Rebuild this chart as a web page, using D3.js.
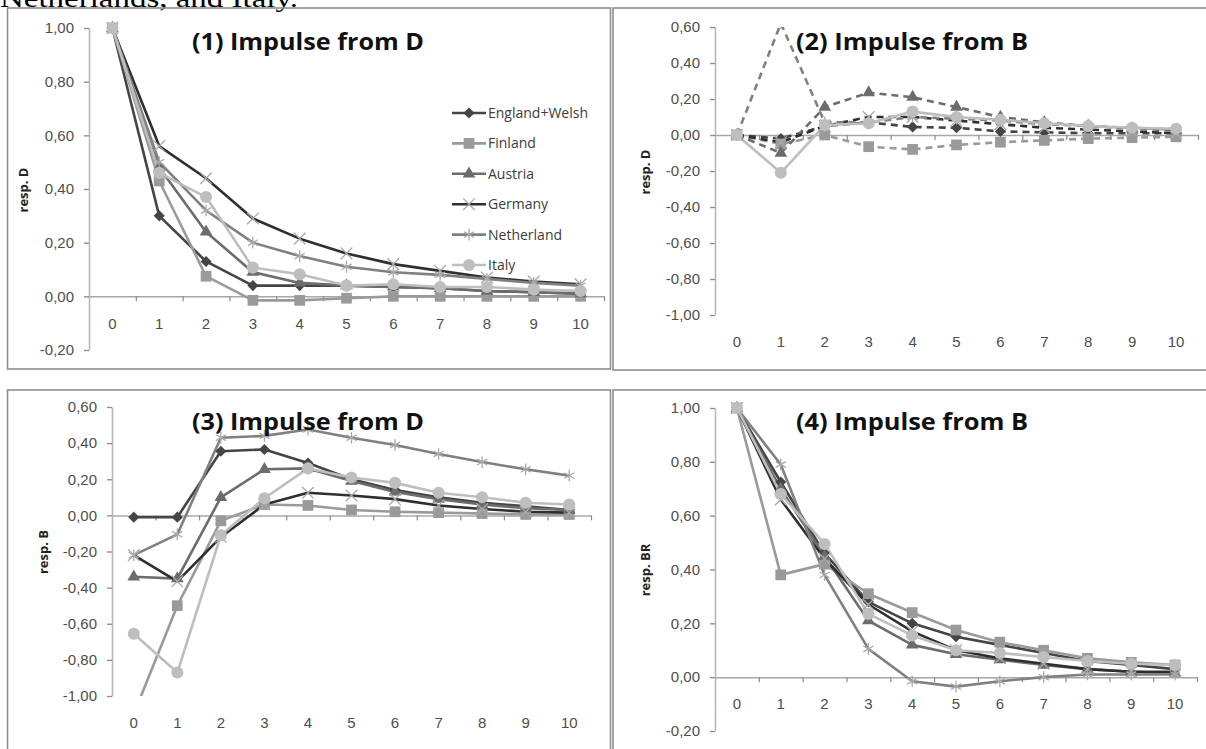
<!DOCTYPE html>
<html>
<head>
<meta charset="utf-8">
<script src="https://cdn.jsdelivr.net/npm/d3@7"></script>
<style>
body { margin: 0; background: #fff; }
svg { display: block; font-family: "Open Sans", sans-serif; }
</style>
</head>
<body>
<script>
// periods after the impulse
var steps = [0, 1, 2, 3, 4, 5, 6, 7, 8, 9, 10];
var countries = ["England+Welsh", "Finland", "Austria", "Germany", "Netherland", "Italy"];
var titles = ["(1) Impulse from D", "(2) Impulse from B", "(3) Impulse from D", "(4) Impulse from B"];
var yLabels = ["resp. D", "resp. D", "resp. B", "resp. BR"];
var ticksSmall = [-0.2, 0, 0.2, 0.4, 0.6, 0.8, 1.0];
var ticksWide = [-1.0, -0.8, -0.6, -0.4, -0.2, 0, 0.2, 0.4, 0.6];

// rows follow the order of countries
var resp1 = [
  [1.00, 0.30, 0.13, 0.04, 0.04, 0.04, 0.035, 0.03, 0.02, 0.015, 0.01],
  [1.00, 0.43, 0.075, -0.015, -0.015, -0.007, 0.0, 0.0, 0.0, 0.0, 0.0],
  [1.00, 0.48, 0.24, 0.09, 0.05, 0.04, 0.035, 0.03, 0.02, 0.015, 0.01],
  [1.00, 0.56, 0.44, 0.29, 0.215, 0.16, 0.12, 0.095, 0.07, 0.055, 0.045],
  [1.00, 0.50, 0.32, 0.20, 0.15, 0.11, 0.09, 0.08, 0.065, 0.05, 0.04],
  [1.00, 0.46, 0.37, 0.107, 0.082, 0.04, 0.045, 0.035, 0.035, 0.025, 0.02]
];
var resp2 = [
  [0, -0.02, 0.05, 0.07, 0.045, 0.04, 0.02, 0.015, 0.01, 0.01, 0.01],
  [0, -0.05, 0.0, -0.065, -0.08, -0.055, -0.04, -0.03, -0.02, -0.015, -0.01],
  [0, -0.10, 0.155, 0.235, 0.21, 0.155, 0.10, 0.07, 0.05, 0.035, 0.025],
  [0, -0.04, 0.05, 0.10, 0.10, 0.08, 0.06, 0.04, 0.03, 0.02, 0.01],
  [0, 0.62, 0.07, 0.07, 0.10, 0.09, 0.08, 0.06, 0.05, 0.04, 0.03],
  [0, -0.21, 0.055, 0.065, 0.13, 0.10, 0.085, 0.065, 0.05, 0.04, 0.035]
];
var resp3 = [
  [-0.01, -0.01, 0.355, 0.365, 0.29, 0.20, 0.14, 0.10, 0.07, 0.05, 0.03],
  [-1.10, -0.50, -0.03, 0.06, 0.055, 0.03, 0.02, 0.015, 0.01, 0.005, 0.005],
  [-0.34, -0.35, 0.10, 0.255, 0.26, 0.19, 0.13, 0.09, 0.06, 0.04, 0.03],
  [-0.22, -0.365, -0.12, 0.06, 0.125, 0.11, 0.09, 0.055, 0.035, 0.02, 0.015],
  [-0.22, -0.105, 0.43, 0.44, 0.475, 0.43, 0.39, 0.34, 0.295, 0.255, 0.22],
  [-0.655, -0.87, -0.11, 0.095, 0.26, 0.21, 0.18, 0.125, 0.10, 0.07, 0.06]
];
var resp4 = [
  [1.00, 0.725, 0.46, 0.28, 0.20, 0.15, 0.12, 0.09, 0.06, 0.045, 0.03],
  [1.00, 0.38, 0.42, 0.31, 0.24, 0.175, 0.13, 0.10, 0.07, 0.055, 0.045],
  [1.00, 0.70, 0.45, 0.21, 0.12, 0.085, 0.065, 0.045, 0.03, 0.02, 0.015],
  [1.00, 0.66, 0.44, 0.27, 0.17, 0.10, 0.07, 0.05, 0.03, 0.02, 0.02],
  [1.00, 0.79, 0.38, 0.105, -0.015, -0.035, -0.015, 0.0, 0.01, 0.01, 0.01],
  [1.00, 0.68, 0.495, 0.235, 0.155, 0.10, 0.09, 0.075, 0.06, 0.05, 0.045]
];

var colors = ["#454545", "#9a9a9a", "#6c6c6c", "#2f2f2f", "#808080", "#bebebe"];
var symbols = [d3.symbolSquare, d3.symbolSquare, d3.symbolTriangle,
               d3.symbolX || d3.symbolCross, d3.symbolAsterisk || d3.symbolCross, d3.symbolCircle];
var symSize = [62, 115, 70, 90, 95, 115];

var svg = d3.select("body").append("svg")
    .attr("width", 1206)
    .attr("height", 749);

// text of the page above the figure, cut by the crop
svg.append("text")
    .attr("x", 0).attr("y", 7)
    .attr("font-family", "Liberation Serif, serif")
    .attr("font-size", 26)
    .attr("textLength", 298)
    .attr("lengthAdjust", "spacingAndGlyphs")
    .attr("fill", "#000")
    .text("Netherlands, and Italy.");

// panel frames
var frames = [[7.5, 8, 603, 361], [613, 8, 620, 362], [7.5, 390, 603, 400], [613, 390, 620, 400]];
frames.forEach(function(f) {
  svg.append("rect")
    .attr("x", f[0]).attr("y", f[1]).attr("width", f[2]).attr("height", f[3])
    .attr("fill", "none")
    .attr("stroke", "#8e8e8e")
    .attr("stroke-width", 1.6);
});

function fmt(d) { return d.toFixed(2).replace(".", ","); }

function marker(g, i, cx, cy) {
  var sym = d3.symbol().type(symbols[i]).size(symSize[i]);
  var m = g.append("path")
    .attr("d", sym())
    .attr("transform", "translate(" + cx + "," + cy + ")" + (i == 0 ? " rotate(45)" : ""));
  if (i == 3 || i == 4) {
    m.attr("fill", "none").attr("stroke", "#a9a9a9").attr("stroke-width", 1.3);
  } else {
    m.attr("fill", colors[i]);
  }
  return m;
}

function panel(num, data, p) {
  var g = svg.append("g");

  var x = d3.scaleBand().domain(steps).range([p.x0, p.x1]).padding(0);
  var xEdge = d3.scaleLinear().domain([0, steps.length]).range([p.x0, p.x1]);
  var y = d3.scaleLinear().domain(p.domain).range([p.yBot, p.yTop]);

  // y axis
  var yAxis = g.append("g")
    .attr("transform", "translate(" + p.x0 + ",0)")
    .call(d3.axisLeft(y).tickValues(p.ticks).tickSize(5).tickSizeOuter(0).tickPadding(10).tickFormat(fmt));
  yAxis.select(".domain").attr("stroke", "#b8b8b8").attr("stroke-width", 1.6);
  yAxis.selectAll(".tick line").attr("stroke", "#8a8a8a").attr("stroke-width", 1.3);
  yAxis.selectAll("text").attr("font-size", 15).attr("fill", "#4e4e4e");

  // x axis line at zero, ticks between categories
  var xAxis = g.append("g")
    .attr("transform", "translate(0," + y(0) + ")")
    .call(d3.axisBottom(xEdge).tickValues(d3.range(1, steps.length + 1)).tickSize(5).tickSizeOuter(0).tickFormat(""));
  xAxis.select(".domain").attr("stroke", "#a8a8a8").attr("stroke-width", 1.5);
  xAxis.selectAll(".tick line").attr("stroke", "#8a8a8a").attr("stroke-width", 1.2);

  // category labels
  var labY = (p.low ? p.yBot : y(0)) + 27;
  var xLab = g.append("g")
    .attr("transform", "translate(0," + labY + ")")
    .call(d3.axisBottom(x).tickSize(0).tickPadding(0));
  xLab.select(".domain").remove();
  xLab.selectAll("text").attr("y", 0).attr("dy", "0.35em").attr("font-size", 15).attr("fill", "#4e4e4e");

  // y label
  g.append("text")
    .attr("transform", "translate(" + p.labX + "," + p.labY + ") rotate(-90)")
    .attr("text-anchor", "middle")
    .attr("dy", "0.35em")
    .attr("font-size", 13)
    .attr("font-weight", "bold")
    .attr("fill", "#222")
    .text(yLabels[num]);

  // clip to the plot area (Excel hides what falls past the axis range)
  var clipId = "clip" + num;
  var topPad = p.tightTop ? 0 : 10;
  g.append("clipPath").attr("id", clipId)
    .append("rect")
    .attr("x", p.x0 - 15).attr("y", p.yTop - topPad)
    .attr("width", p.x1 - p.x0 + 30).attr("height", p.yBot - p.yTop + topPad);

  var plot = g.append("g").attr("clip-path", "url(#" + clipId + ")");
  var line = d3.line()
    .x(function(d, i) { return x(steps[i]) + x.bandwidth() / 2; })
    .y(function(d) { return y(d); });

  data.forEach(function(row, i) {
    var path = plot.append("path")
      .datum(row)
      .attr("d", line)
      .attr("fill", "none")
      .attr("stroke", colors[i])
      .attr("stroke-width", 2.6)
      .attr("stroke-linejoin", "round");
    if (p.dashed && i != 5) path.attr("stroke-dasharray", "7,5");
  });
  data.forEach(function(row, i) {
    row.forEach(function(v, k) {
      marker(plot, i, x(steps[k]) + x.bandwidth() / 2, y(v));
    });
  });

  // title
  g.append("text")
    .attr("x", p.titleX).attr("y", p.titleY)
    .attr("text-anchor", "middle")
    .attr("font-size", 24)
    .attr("font-weight", "bold")
    .attr("fill", "#111")
    .attr("textLength", 232)
    .attr("lengthAdjust", "spacingAndGlyphs")
    .text(titles[num]);
}

panel(0, resp1, { x0: 89, x1: 604, yTop: 28, yBot: 350, domain: [-0.2, 1.0], ticks: ticksSmall,
  low: false, labX: 23, labY: 190, titleX: 308, titleY: 50 });
panel(1, resp2, { x0: 715, x1: 1198, yTop: 27, yBot: 315, domain: [-1.0, 0.6], ticks: ticksWide,
  low: true, dashed: true, tightTop: true, labX: 645, labY: 172, titleX: 912, titleY: 50 });
panel(2, resp3, { x0: 112, x1: 591, yTop: 407, yBot: 696, domain: [-1.0, 0.6], ticks: ticksWide,
  low: true, labX: 43, labY: 552, titleX: 308, titleY: 430 });
panel(3, resp4, { x0: 715, x1: 1197, yTop: 408, yBot: 731, domain: [-0.2, 1.0], ticks: ticksSmall,
  low: false, labX: 645, labY: 570, titleX: 912, titleY: 430 });

// legend of panel 1
var legend = svg.append("g");
countries.forEach(function(name, i) {
  var ly = 113 + i * 30.4;
  legend.append("line")
    .attr("x1", 452).attr("x2", 486).attr("y1", ly).attr("y2", ly)
    .attr("stroke", colors[i]).attr("stroke-width", 2.6);
  marker(legend, i, 469, ly);
  legend.append("text")
    .attr("x", 488).attr("y", ly).attr("dy", "0.35em")
    .attr("font-size", 14)
    .attr("fill", "#3c3c3c")
    .text(name);
});
</script>
</body>
</html>
